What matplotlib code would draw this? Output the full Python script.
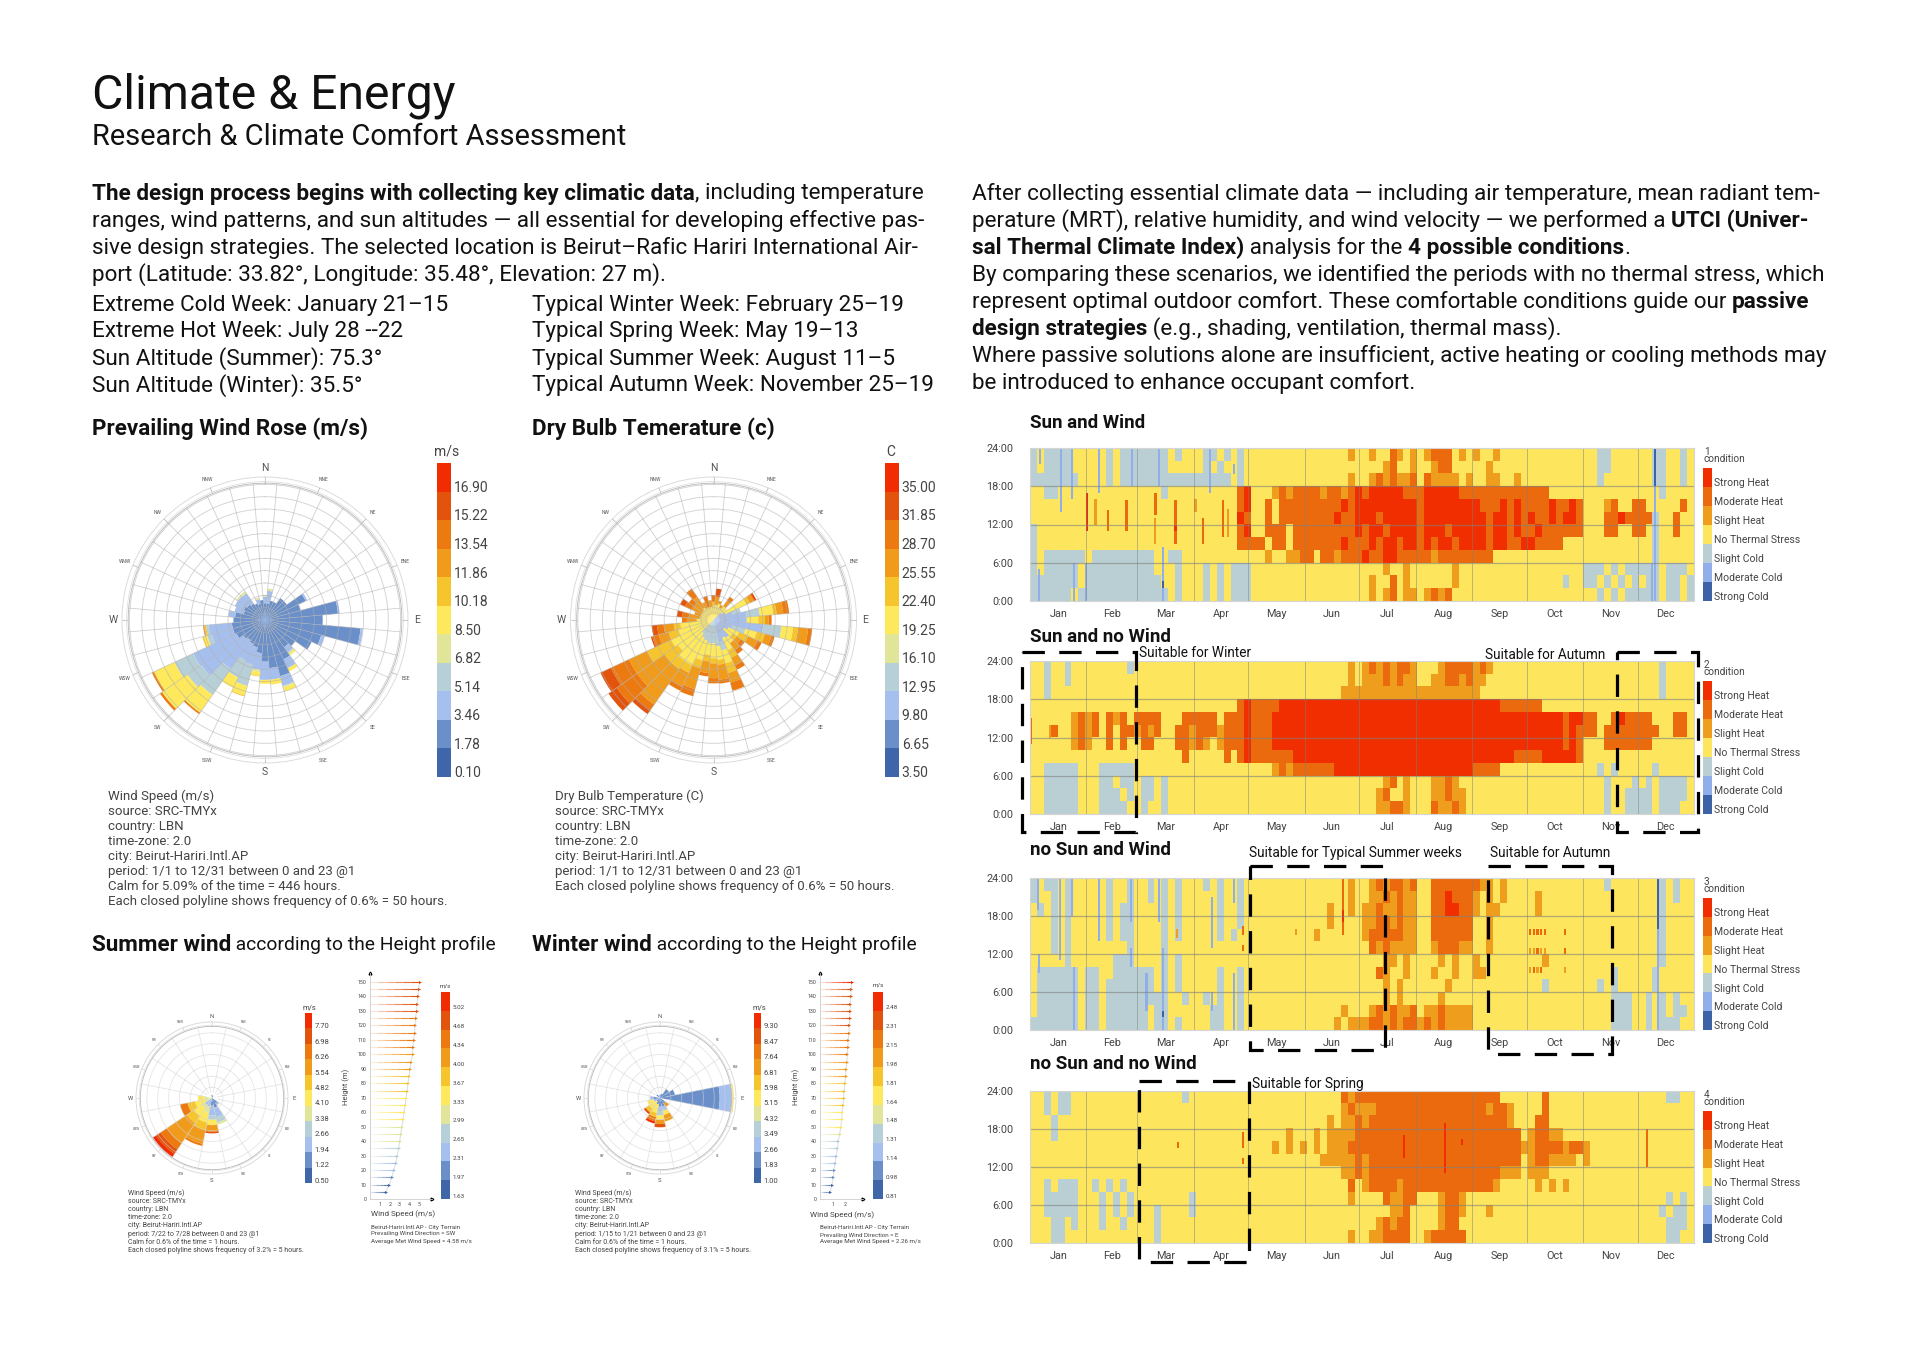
import numpy as np
import matplotlib
matplotlib.use("Agg")
from matplotlib import pyplot as plt
from matplotlib.colors import ListedColormap
from matplotlib.patches import Rectangle

plt.rcParams['font.family'] = ['Roboto', 'DejaVu Sans']

W, H = 1920, 1357

# ---------- data ----------
rose_colors = ['#3F66A8', '#6A8FC9', '#A5BFEE', '#B7CFD6', '#E1E59A', '#FEE85C',
               '#F6C42D', '#F09B1B', '#EC7A10', '#E2530C', '#F12C00']
cond_colors = ['#3D62A6', '#8FAEEA', '#B9CFD3', '#FDE55E', '#EE9D1C', '#EB6A0E', '#F02E00']
cond_names = ['Strong Heat', 'Moderate Heat', 'Slight Heat', 'No Thermal Stress',
              'Slight Cold', 'Moderate Cold', 'Strong Cold']
months = ['Jan', 'Feb', 'Mar', 'Apr', 'May', 'Jun', 'Jul', 'Aug', 'Sep', 'Oct', 'Nov', 'Dec']
month_days = [31, 28, 31, 30, 31, 30, 31, 31, 30, 31, 30, 31]
hours = ['0:00', '6:00', '12:00', '18:00', '24:00']

# each direction (every 10 degrees from N): (colour bin, cumulative hours)
wind_rose = [
    [(1, 68), (2, 95), (4, 101)], [(1, 68), (2, 119), (4, 128)], [(1, 81)], [(1, 81)],
    [(1, 108)], [(1, 108)], [(1, 182), (2, 189)], [(1, 149)],
    [(1, 297), (2, 304)], [(1, 234)], [(1, 389), (2, 398)], [(1, 236), (2, 250)],
    [(1, 209)], [(1, 149)], [(1, 135), (2, 162), (4, 171), (5, 176)], [(1, 176), (2, 216), (5, 230)],
    [(1, 236), (2, 277), (4, 284), (5, 300)], [(1, 196), (2, 243), (5, 263)],
    [(1, 169), (2, 243), (5, 259)], [(1, 135), (2, 203), (4, 213), (5, 227), (6, 230)],
    [(1, 115), (2, 189), (3, 277), (5, 317), (6, 321)], [(1, 108), (2, 182), (3, 257), (5, 304)],
    [(1, 101), (2, 243), (3, 371), (5, 459), (8, 466)], [(1, 108), (2, 317), (3, 385), (5, 510), (8, 520)],
    [(1, 128), (2, 321), (3, 405), (5, 497), (8, 506)], [(1, 135), (2, 223), (3, 243), (5, 257), (6, 263)],
    [(1, 135), (2, 230), (3, 240), (6, 248), (8, 252)], [(1, 128)], [(1, 122), (2, 149)],
    [(1, 90), (2, 128)], [(1, 95), (2, 135)], [(1, 88), (2, 135), (4, 142)],
    [(1, 81), (2, 132), (4, 142)], [(1, 74)], [(1, 68), (2, 88), (4, 95)], [(1, 81)],
]
temp_rose = [
    [(5, 54), (6, 74), (8, 101)], [(5, 61), (7, 95), (9, 128)], [(5, 68), (7, 81)], [(5, 54), (7, 68)],
    [(5, 68), (7, 95), (8, 115)], [(2, 40), (5, 68)], [(2, 54), (5, 149), (6, 162), (7, 182), (9, 192)],
    [(2, 81), (3, 115)], [(2, 135), (3, 189), (5, 243), (6, 257), (7, 284), (8, 308)],
    [(2, 135), (5, 182), (6, 209), (7, 223), (8, 236)], [(2, 203), (3, 277), (5, 324), (6, 344), (7, 385), (8, 402)],
    [(2, 81), (3, 135), (5, 182), (6, 216), (7, 243), (8, 257)], [(2, 68), (5, 115), (6, 155), (7, 196), (8, 216)],
    [(2, 54), (5, 95), (6, 115), (7, 135), (8, 155)], [(2, 88), (5, 115), (7, 149), (8, 169)],
    [(2, 81), (5, 135), (6, 169), (7, 203), (8, 223)], [(2, 95), (3, 128), (5, 182), (6, 223), (7, 263), (8, 297)],
    [(3, 108), (5, 162), (6, 182), (7, 243), (8, 259)], [(3, 95), (5, 155), (6, 176), (7, 236), (8, 257)],
    [(3, 95), (5, 142), (6, 169), (7, 216), (8, 230)], [(3, 88), (5, 169), (6, 203), (7, 290), (8, 320)],
    [(3, 81), (5, 203), (6, 236), (7, 297), (8, 317)], [(3, 68), (5, 203), (6, 243), (7, 419), (8, 446), (9, 466)],
    [(5, 176), (6, 243), (7, 378), (8, 479), (9, 520)], [(5, 189), (6, 297), (7, 378), (8, 459), (9, 506)],
    [(5, 149), (6, 189), (7, 230), (8, 257), (9, 263)], [(5, 135), (6, 162), (7, 203), (8, 230), (9, 252)],
    [(5, 68), (7, 108), (8, 128)], [(5, 54), (7, 101), (8, 128), (9, 149)], [(5, 54), (7, 81)],
    [(5, 54), (7, 95), (8, 128), (9, 149)], [(5, 54), (7, 95), (8, 122)], [(5, 61), (7, 115), (8, 155)],
    [(5, 54), (7, 81)], [(5, 54), (8, 101)], [(5, 54), (7, 81)],
]
# 16 directions from N
summer_rose = [
    [(1, 1.5)], [(1, 1)], [], [], [], [], [(1, 3), (2, 4)], [(1, 4.5), (2, 9), (3, 11.5), (4, 12.5)],
    [(1, 3.5), (2, 8), (3, 10), (5, 12.5), (7, 15.5), (9, 16.3)], [(2, 4), (4, 7), (5, 11.5), (6, 15), (7, 21.5), (8, 22.5)],
    [(2, 4), (4, 5.5), (5, 10), (6, 14), (7, 25), (8, 28.5), (9, 31), (10, 32.7)],
    [(4, 3.5), (5, 8), (6, 11.5), (8, 15)], [(4, 3.5), (5, 6.5)], [], [], [(4, 1.5)],
]
winter_rose = [
    [(1, 1.5)], [(1, 2)], [(1, 5)], [(1, 7)], [(1, 27.5), (2, 33), (5, 34)], [], [(1, 3), (7, 5)],
    [(1, 4), (2, 6), (5, 8), (7, 11)], [(1, 4), (2, 6), (3, 8), (5, 10), (7, 12), (9, 13.5)],
    [(1, 3), (5, 7), (6, 9), (8, 11), (10, 12)], [(1, 2), (5, 6), (6, 8), (9, 9)],
    [(2, 3), (5, 6)], [(1, 3), (2, 4.5)], [], [(1, 2)], [],
]
wind_ticks = ['0.10', '1.78', '3.46', '5.14', '6.82', '8.50', '10.18', '11.86', '13.54', '15.22', '16.90']
temp_ticks = ['3.50', '6.65', '9.80', '12.95', '16.10', '19.25', '22.40', '25.55', '28.70', '31.85', '35.00']
summer_ticks = ['0.50', '1.22', '1.94', '2.66', '3.38', '4.10', '4.82', '5.54', '6.26', '6.98', '7.70']
winter_ticks = ['1.00', '1.83', '2.66', '3.49', '4.32', '5.15', '5.98', '6.81', '7.64', '8.47', '9.30']
prof1_ticks = ['1.63', '1.97', '2.31', '2.65', '2.99', '3.33', '3.67', '4.00', '4.34', '4.68', '5.02']
prof2_ticks = ['0.81', '0.98', '1.14', '1.31', '1.48', '1.64', '1.81', '1.98', '2.15', '2.31', '2.48']

heights = list(range(5, 155, 5))
prof1_speed = [1.6, 1.95, 2.2, 2.4, 2.6, 2.75, 2.9, 3.0, 3.1, 3.2, 3.35, 3.45, 3.55, 3.65, 3.75,
               3.85, 3.95, 4.05, 4.15, 4.3, 4.35, 4.4, 4.5, 4.55, 4.6, 4.7, 4.75, 4.85, 4.9, 5.0]
prof2_speed = [0.8, 0.95, 1.05, 1.1, 1.2, 1.3, 1.38, 1.45, 1.55, 1.65, 1.7, 1.76, 1.82, 1.87, 1.92,
               1.97, 2.02, 2.06, 2.12, 2.17, 2.2, 2.24, 2.28, 2.31, 2.34, 2.38, 2.41, 2.44, 2.47, 2.5]

# thermal condition, 8 columns per month, rows from 22-24h down to 0-2h
# 0 strong cold .. 3 no stress .. 6 strong heat
sun_wind = [
    "23222233 33323222 22223233 32232323 33333333 33333343 34335434 34555343 43343333 33333333 33223333 33223323",
    "23222233 33323222 22223333 32323323 33333333 33333333 33345334 33455333 33433333 33333333 33223333 33223323",
    "22222223 33323222 22222222 22222323 33333333 33333343 34545445 35444434 33443343 33333333 33233333 33223323",
    "33223333 33333333 33323333 33333356 33345455 55455456 56666655 56666655 55555555 55533333 33333333 33323333",
    "33333333 33333333 33333333 33333356 33535555 55555656 66666666 56666666 65556565 55565565 33345335 53333353",
    "33333333 33333333 33333333 33333365 33535555 55556556 66566666 56666666 66566565 65565665 33355655 55233533",
    "23333333 33333333 33333333 33333356 33555355 55555556 56656666 56665666 66566565 56555555 33355335 53233533",
    "23333333 33333333 33333333 33333355 55355355 55555655 56566566 56566566 66566556 65555333 33333333 33233333",
    "23222222 32222222 22332233 33333333 33433445 53554555 65566555 55455555 55533333 33333333 33333333 33233333",
    "23222223 22222222 22333233 32323222 33333333 33333333 33343343 33333433 33333333 33333333 22232322 22232223",
    "22222223 22222222 22233233 32323222 33333333 33333333 34335343 33333433 33333333 33333233 22323232 32232232",
    "22222232 22222222 22223233 32323222 33333333 33333333 34345344 34545333 33333333 33333333 33232322 22232232",
]
sun_nowind = [
    "33233233 33333323 33333333 33333333 33333333 33333343 45454554 33345555 45433333 33333333 33333333 33323333",
    "33233233 33333333 33333333 33333333 33333333 33333343 44454544 33445545 44333333 33333333 33333333 33323333",
    "33233333 33333333 33333333 33333333 33333333 33333444 44444444 44444444 43333333 33333333 33333333 33323333",
    "33333333 33333333 33333333 33333356 55556666 66666666 66666666 66666666 66665555 55333333 33333333 33333333",
    "33333345 45354535 55533355 55535556 55566666 66666666 66666666 66666666 66666666 66666566 55335655 55333553",
    "33353345 45353554 54533554 55545556 55566666 66666666 66666666 66666666 66666666 66666565 55355555 55533553",
    "33333345 43353533 55333554 54345556 55566666 66666666 66666666 66666666 66666666 66666565 33355555 55333333",
    "33333333 33333333 33333353 33335356 55555566 66666666 66666666 66666666 66666655 55666665 33333333 33333333",
    "33222223 33222223 33333333 33333333 33345455 55556666 66666666 66666666 55553333 33333333 33232333 33233333",
    "33222223 33223223 22323333 33333333 33333333 33333333 33345343 33445433 33333333 33333333 33323332 32322223",
    "33222223 33222323 22323333 33333333 33333333 33333333 33453343 33445443 33333333 33333333 33323322 22322223",
    "33222223 33222233 23323333 33333333 33333333 33333333 33445543 33544543 33333333 33333333 33323322 22322233",
]
nosun_wind = [
    "23223233 33323323 32323233 32323323 33333333 33333343 34545545 33555555 54434333 33333333 33323333 33323233",
    "23323233 33323323 32323233 33323323 33333333 33333343 34454544 33556555 43434333 34333333 33333333 33323233",
    "32323233 33323223 33323233 33323323 33333333 33343343 44544544 33556655 43443333 34333333 33333333 33323333",
    "33323233 33323223 33323233 33323323 33333333 33343333 44554544 33555555 33433333 33333333 33333333 33323333",
    "33323233 33323223 33323233 33323233 33333333 34333333 45555544 33555555 33433333 33333333 33333333 33323333",
    "33323233 33333323 33323333 33333333 33333333 33333333 35454444 33455544 33433333 33333333 33333333 33323333",
    "33333233 33332223 33323233 33333333 33333333 33333333 33344343 33343433 43333333 33433333 33333333 33323333",
    "32222223 22332222 22323233 33323323 33333333 33333333 33543343 33433433 44333333 33333333 33332333 33233333",
    "32222223 22322222 22323233 33323323 33333333 33333333 33343433 33334333 33333333 33233333 33232333 33233333",
    "32222223 22322222 22223323 32323323 33333333 33333333 33343433 33343333 33333333 33333333 33332223 32323233",
    "32222223 22322222 23223333 33223323 33333333 33333433 34545445 34454444 33333333 33333333 33332223 32323223",
    "22222223 22322222 23223233 33223323 33333333 33334344 45545455 45454444 33333333 33333333 33332223 32322233",
]
nosun_nowind = [
    "33232233 33333333 33333323 33333333 33333333 33333545 55555555 55555555 55553333 33533333 33333333 33332233",
    "33232233 33333333 33333333 33333333 33333333 33333454 44555555 55555555 55455433 33533333 33333333 33333333",
    "33323333 33333333 33333333 33333333 33333333 33343445 45555555 55555555 55555433 35533333 33333333 33333333",
    "33323333 33333333 33333333 33333333 33333433 34344445 55555555 55555555 55555553 45544333 33333333 33333333",
    "33333333 33333333 33333333 33333333 33343434 34344455 55555555 55555555 55555554 45555455 43333333 33333333",
    "33333333 33333333 33333333 33333333 33333333 33444445 45555555 55555555 55555553 45544443 43333333 33333333",
    "33333333 33333333 33333333 33333333 33333333 33333445 45555555 55555555 55554443 44433333 33333333 33333333",
    "33232223 32323233 33333333 33333333 33333333 33333353 45555455 55555555 55543333 34343433 33333333 33333333",
    "33222223 33232323 33333332 33333333 33333333 33333343 33354455 33345543 33333333 33333333 33333333 33332323",
    "33222223 33232323 33233332 33333333 33333333 33333333 33334453 33345543 33433333 33333333 33333333 33323223",
    "33322323 33233233 33233333 33333333 33333333 33333333 33454553 33345533 33333333 33333333 33333333 33332223",
    "33322333 33333333 33233333 33333333 33333333 33333343 34455553 34555553 33333333 33333333 33333333 33332233",
]

# thin single-day runs seen on top of the grids: (day, hour from, hour to, condition)
sun_wind_thin = [
    (5, 0, 5, 1), (5.5, 21.5, 24, 1), (17, 14, 24, 1), (23, 16, 24, 1), (24, 0, 6, 1), (31, 0, 6, 1),
    (38, 17, 24, 1), (56, 18, 24, 1), (71, 18, 24, 1), (73, 0, 8.5, 1), (73, 2, 3.2, 0), (99, 17, 24, 1),
    (112, 20, 21.5, 1), (31.5, 11, 17, 6), (36, 12, 16, 4), (43, 11, 14.3, 5), (53, 11, 15.8, 5),
    (69, 13.5, 17, 5), (68.5, 9, 13, 4), (80, 9, 15.8, 5), (80, 11, 12, 6), (95, 9, 13, 5), (91, 14, 16, 4),
    (106, 10, 15.8, 5), (109, 10, 14.5, 4), (343.5, 0, 24, 1), (343.5, 18, 24, 0), (342, 0, 6, 1),
]
sun_nowind_thin = [(0.5, 11, 15, 5), (11, 12, 14, 4)]
nosun_wind_thin = [
    (4.6, 19, 24, 1), (16.5, 11, 24, 1), (23, 18, 24, 1), (24, 0, 10, 1), (38, 14, 24, 1), (55.5, 17, 24, 1),
    (55.5, 10, 13, 1), (71, 17, 24, 1), (73, 0, 13, 1), (73, 2, 3, 0), (64, 3, 9, 1), (100, 13, 21, 1),
    (100, 3, 6, 1), (112, 20, 24, 1), (112, 0, 9, 1), (5, 9, 12, 1), (117, 15, 16.5, 5), (117, 12.5, 13.5, 5),
    (172, 15, 24, 5), (172, 17, 19, 6), (81, 14.5, 16, 4), (146, 15, 16, 4), (345, 16, 24, 0), (345, 0, 16, 1),
    (275, 15, 16, 5), (277, 15, 16, 5), (279, 15, 16, 5), (281, 15, 16, 5), (283, 15, 16, 5), (294, 15, 16, 5),
    (275, 12, 13, 4), (277, 12, 13, 4), (279, 12, 13, 5), (281, 12, 13, 4), (283, 12, 13, 4), (294, 12, 13, 5),
    (275, 9, 10, 4), (277, 9, 10, 5), (279, 9, 10, 4), (281, 9, 10, 5), (294, 9, 10, 4),
]
nosun_nowind_thin = [
    (205.5, 13.5, 17, 6), (228, 11, 18.9, 6), (237.5, 15.5, 16.5, 6), (339, 12, 18, 5),
    (117, 15, 17.5, 5), (117, 12.5, 13.5, 5), (81.5, 15, 16, 5),
]

left_intro = [
    [("The design process begins with collecting key climatic data", True), (", including temperature", False)],
    [("ranges, wind patterns, and sun altitudes — all essential for developing effective pas-", False)],
    [("sive design strategies. The selected location is Beirut–Rafic Hariri International Air-", False)],
    [("port (Latitude: 33.82°, Longitude: 35.48°, Elevation: 27 m).", False)],
]
weeks_left = ["Extreme Cold Week: January 21–15", "Extreme Hot Week: July 28 --22",
              "Sun Altitude (Summer): 75.3°", "Sun Altitude (Winter): 35.5°"]
weeks_right = ["Typical Winter Week: February 25–19", "Typical Spring Week: May 19–13",
               "Typical Summer Week: August 11–5", "Typical Autumn Week: November 25–19"]
right_intro = [
    [("After collecting essential climate data — including air temperature, mean radiant tem-", False)],
    [("perature (MRT), relative humidity, and wind velocity — we performed a ", False), ("UTCI (Univer-", True)],
    [("sal Thermal Climate Index)", True), (" analysis for the ", False), ("4 possible conditions", True), (".", False)],
    [("By comparing these scenarios, we identified the periods with no thermal stress, which", False)],
    [("represent optimal outdoor comfort. These comfortable conditions guide our ", False), ("passive", True)],
    [("design strategies", True), (" (e.g., shading, ventilation, thermal mass).", False)],
    [("Where passive solutions alone are insufficient, active heating or cooling methods may", False)],
    [("be introduced to enhance occupant comfort.", False)],
]
wind_note = ["Wind Speed (m/s)", "source: SRC-TMYx", "country: LBN", "time-zone: 2.0", "city: Beirut-Hariri.Intl.AP",
             "period: 1/1 to 12/31 between 0 and 23 @1", "Calm for 5.09% of the time = 446 hours.",
             "Each closed polyline shows frequency of 0.6% = 50 hours."]
temp_note = ["Dry Bulb Temperature (C)", "source: SRC-TMYx", "country: LBN", "time-zone: 2.0", "city: Beirut-Hariri.Intl.AP",
             "period: 1/1 to 12/31 between 0 and 23 @1", "Each closed polyline shows frequency of 0.6% = 50 hours."]
summer_note = ["Wind Speed (m/s)", "source: SRC-TMYx", "country: LBN", "time-zone: 2.0", "city: Beirut-Hariri.Intl.AP",
               "period: 7/22 to 7/28 between 0 and 23 @1", "Calm for 0.6% of the time = 1 hours.",
               "Each closed polyline shows frequency of 3.2% = 5 hours."]
winter_note = ["Wind Speed (m/s)", "source: SRC-TMYx", "country: LBN", "time-zone: 2.0", "city: Beirut-Hariri.Intl.AP",
               "period: 1/15 to 1/21 between 0 and 23 @1", "Calm for 0.6% of the time = 1 hours.",
               "Each closed polyline shows frequency of 3.1% = 5 hours."]
prof1_note = ["Beirut-Hariri.Intl.AP - City Terrain", "Prevailing Wind Direction = SW", "Average Met Wind Speed = 4.58 m/s"]
prof2_note = ["Beirut-Hariri.Intl.AP - City Terrain", "Prevailing Wind Direction = E", "Average Met Wind Speed = 2.26 m/s"]
compass = ['N', 'NNE', 'NE', 'ENE', 'E', 'ESE', 'SE', 'SSE', 'S', 'SSW', 'SW', 'WSW', 'W', 'WNW', 'NW', 'NNW']

# ---------- page ----------
fig = plt.figure(figsize=(W / 100, H / 100), dpi=100, facecolor='white')
page = fig.add_axes([0, 0, 1, 1], zorder=10)
page.set_xlim(0, W)
page.set_ylim(H, 0)
page.axis('off')
page.patch.set_alpha(0)


def px_axes(x0, y0, x1, y1, **kw):
    return fig.add_axes([x0 / W, 1 - y1 / H, (x1 - x0) / W, (y1 - y0) / H], **kw)


def write_runs(x, y, runs, size, plain_size=None):
    # text with bold and plain parts on one line
    renderer = fig.canvas.get_renderer()
    for text, bold in runs:
        s = size if bold or plain_size is None else plain_size
        t = page.text(x, y, text, fontsize=s, va='center', color='#111111',
                      fontweight='bold' if bold else 'normal')
        x = page.transData.inverted().transform((t.get_window_extent(renderer).x1, 0))[0]


def write_lines(x, y, lines, step, size, color='#444444'):
    for i, line in enumerate(lines):
        page.text(x, y + i * step, line, fontsize=size, va='center', color=color)


def colorbar(x0, y0, x1, y1, labels, colors, size, unit, unit_x, unit_y):
    cax = px_axes(x0, y0, x1, y1)
    n = len(colors)
    cax.pcolormesh([0, 1], np.arange(n + 1), np.arange(n).reshape(n, 1),
                   cmap=ListedColormap(colors), vmin=0, vmax=n - 1)
    cax.set_xticks([])
    cax.yaxis.tick_right()
    cax.set_yticks(np.arange(len(labels)) + 0.18)
    cax.set_yticklabels(labels, fontsize=size, color='#444444')
    cax.tick_params(axis='y', length=0, pad=2)
    for s in cax.spines.values():
        s.set_visible(False)
    page.text(unit_x, unit_y, unit, fontsize=size, ha='center', va='center', color='#444444')


def rose(cx, cy, radius, rmax, ring, r_outer, stacks, big, small, label_r, spoke, offset, grid_color):
    ax = px_axes(cx - radius, cy - radius, cx + radius, cy + radius, projection='polar')
    ax.set_theta_zero_location('N')
    ax.set_theta_direction(-1)
    ax.set_ylim(0, rmax)
    n = len(stacks)
    width = 2 * np.pi / n
    for i, stack in enumerate(stacks):
        bottom = 0
        for b, top in stack:
            ax.bar(i * width, top - bottom, width=width, bottom=bottom, color=rose_colors[b],
                   linewidth=0, zorder=2)
            bottom = top
    ax.set_yticks(np.arange(ring, r_outer, ring))
    ax.set_yticklabels([])
    ax.set_xticks([])
    ax.yaxis.grid(True, color=grid_color, linewidth=0.6, alpha=0.6, zorder=3)
    ax.set_axisbelow(False)
    ax.tick_params(length=0)
    ax.vlines(np.deg2rad(np.arange(offset, 360, spoke)), ring * 0.5, r_outer, color=grid_color,
              linewidth=0.6, alpha=0.6, zorder=3)
    ax.vlines(np.deg2rad(np.arange(0, 360, 22.5)), r_outer, rmax, color=grid_color, linewidth=0.5, zorder=3)
    th = np.linspace(0, 2 * np.pi, 200)
    ax.plot(th, np.full(200, r_outer), color='#b8b8b8', lw=0.6, zorder=3)
    ax.plot(th, np.full(200, r_outer + (rmax - r_outer) * 0.25), color='#dcdcdc', lw=0.5, zorder=3)
    ax.spines['polar'].set_color('#dcdcdc')
    ax.spines['polar'].set_linewidth(0.7)
    for k, name in enumerate(compass):
        a = np.deg2rad(k * 22.5)
        lx = cx + label_r * np.sin(a)
        ly = cy - label_r * np.cos(a)
        main = k % 4 == 0
        page.text(lx, ly, name, fontsize=big if main else small, ha='center', va='center', color='#555555')


def heat(y0, y1, rows, thin, number, title, title_y):
    x0, x1 = 1030, 1694
    grid = np.array([[int(c) for c in r.replace(' ', '')] for r in rows])
    ax = px_axes(x0, y0, x1, y1)
    ax.imshow(grid, cmap=ListedColormap(cond_colors), vmin=0, vmax=6, aspect='auto',
              interpolation='nearest', extent=[0, 365, 0, 24])
    for day, h0, h1, c in thin:
        ax.add_patch(Rectangle((day - 0.6, h0), 1.2, h1 - h0, color=cond_colors[c], linewidth=0))
    edges = np.cumsum(month_days)
    mids = edges - np.array(month_days) / 2
    for e in edges[:-1]:
        ax.axvline(e, color='#808080', lw=0.7, alpha=0.5)
    for v in (6, 12, 18):
        ax.axhline(v, color='#808080', lw=0.9, alpha=0.6)
    ax.set_xlim(0, 365)
    ax.set_ylim(0, 24)
    ax.set_yticks([0, 6, 12, 18, 24])
    ax.set_yticklabels(hours, fontsize=7.8, color='#444444')
    ax.set_xticks(mids)
    ax.set_xticklabels(months, fontsize=7.8, color='#444444')
    ax.tick_params(length=0, pad=6)
    ax.tick_params(axis='y', pad=12)
    for s in ax.spines.values():
        s.set_color('#d5d5d5')
    # legend strip
    lax = px_axes(1703, y0 + 20, 1712, y1)
    lax.pcolormesh([0, 1], np.arange(8), np.arange(7).reshape(7, 1),
                   cmap=ListedColormap(cond_colors), vmin=0, vmax=6)
    lax.axis('off')
    page.text(1704, y0 + 4, str(number), fontsize=7.2, va='center', color='#444444')
    page.text(1704, y0 + 11, 'condition', fontsize=7.2, va='center', color='#444444')
    step = (y1 - y0 - 20) / 7
    for i, name in enumerate(cond_names):
        page.text(1714, y0 + 21 + step * (i + 0.75), name, fontsize=7.5, va='center', color='#444444')
    page.text(x0, title_y, title, fontsize=13.5, fontweight='bold', va='center', color='#111111')


def dashed(x0, y0, x1, y1):
    page.add_patch(Rectangle((x0, y0), x1 - x0, y1 - y0, fill=False, edgecolor='black',
                             linewidth=2.3, linestyle=(0, (7, 4.5))))


def profile(x0, x1, top, base, speeds, ticks, xticks, xmax):
    ax = px_axes(x0, top, x1, base)
    ax.set_xlim(0, xmax)
    ax.set_ylim(0, (base - top) / (217 / 150))
    edges = [float(t) for t in ticks]
    for h, v in zip(heights, speeds):
        c = rose_colors[int(np.clip(np.digitize(v, edges) - 1, 0, 10))]
        xs = np.linspace(0, v, 7)
        for k in range(6):
            ax.plot(xs[k:k + 2], [h, h], color=c, lw=0.8, alpha=(k + 1) / 6, solid_capstyle='butt')
        ax.plot(v, h, marker='>', ms=2.2, color=c, mew=0)
    ax.plot(speeds, heights, color='#dddddd', lw=0.7, zorder=0)
    for name in ('top', 'right'):
        ax.spines[name].set_visible(False)
    for name in ('left', 'bottom'):
        ax.spines[name].set_color('#cccccc')
        ax.spines[name].set_linewidth(0.6)
    ax.plot(1, 0, '>k', ms=2, transform=ax.transAxes, clip_on=False)
    ax.plot(0, 1, '^k', ms=2, transform=ax.transAxes, clip_on=False)
    ax.set_yticks(range(0, 160, 10))
    ax.set_yticklabels(range(0, 160, 10), fontsize=3.8, color='#444444')
    ax.set_xticks(xticks)
    ax.set_xticklabels(xticks, fontsize=3.8, color='#444444')
    ax.tick_params(length=0, pad=2.5)
    ax.patch.set_alpha(0)


# ---------- header and text ----------
page.text(92, 96, "Climate & Energy", fontsize=34.7, va='center', color='#111111')
page.text(92, 137, "Research & Climate Comfort Assessment", fontsize=20.9, va='center', color='#111111')

for i, runs in enumerate(left_intro):
    write_runs(92, 194 + 27 * i, runs, 16.2)
for i in range(4):
    write_runs(92, 305 + 27 * i, [(weeks_left[i], False)], 16.2)
    write_runs(532, 305 + 27 * i, [(weeks_right[i], False)], 16.2)
for i, runs in enumerate(right_intro):
    write_runs(972, 194 + 27 * i, runs, 16.2)

write_runs(92, 429, [("Prevailing Wind Rose (m/s)", True)], 16.2)
write_runs(532, 429, [("Dry Bulb Temerature (c)", True)], 16.2)
write_runs(92, 945, [("Summer wind", True), (" according to the Height profile", False)], 16.2, 13.85)
write_runs(532, 945, [("Winter wind", True), (" according to the Height profile", False)], 16.2, 13.85)

# ---------- wind roses ----------
rose(265, 620, 143, 580, 50, 555, wind_rose, 7.5, 3.6, 152, 10, 5, '#b0b0b0')
rose(713.5, 620, 143, 580, 50, 555, temp_rose, 7.5, 3.6, 152, 10, 5, '#b0b0b0')
colorbar(437, 463, 451, 777, wind_ticks, rose_colors, 10, 'm/s', 447, 452)
colorbar(885, 463, 899, 777, temp_ticks, rose_colors, 10, 'C', 891, 452)
write_lines(108, 796, wind_note, 15.1, 9.55)
write_lines(555, 796, temp_note, 15.1, 9.55)

rose(212, 1098, 76, 35, 5, 33, summer_rose, 4.2, 2.2, 82, 22.5, 11.25, '#d4d4d4')
rose(660, 1098, 76, 35, 5, 33, winter_rose, 4.2, 2.2, 82, 22.5, 11.25, '#d4d4d4')
colorbar(305, 1013, 312, 1183, summer_ticks, rose_colors, 5.5, 'm/s', 309.6, 1007)
colorbar(754, 1013, 761, 1183, winter_ticks, rose_colors, 5.5, 'm/s', 759, 1007)
write_lines(128.5, 1193, summer_note, 8.2, 5.05)
write_lines(575, 1193, winter_note, 8.2, 5.05)

# ---------- height profiles ----------
profile(370, 432, 973, 1199, prof1_speed, prof1_ticks, [1, 2, 3, 4, 5], 6.26)
profile(820, 863, 973, 1199, prof2_speed, prof2_ticks, [1, 2], 3.4)
colorbar(441, 992, 450, 1199, prof1_ticks, rose_colors, 4.5, 'm/s', 445.5, 986)
colorbar(873, 992, 883, 1199, prof2_ticks, rose_colors, 4.5, 'm/s', 878, 985)
page.text(346, 1087, "Height (m)", rotation=90, fontsize=5.5, ha='center', va='center', color='#444444')
page.text(796, 1087, "Height (m)", rotation=90, fontsize=5.5, ha='center', va='center', color='#444444')
page.text(371, 1214, "Wind Speed (m/s)", fontsize=5.8, va='center', color='#444444')
page.text(810, 1215, "Wind Speed (m/s)", fontsize=5.8, va='center', color='#444444')
write_lines(371, 1227, prof1_note, 7, 4.5)
write_lines(820, 1228, prof2_note, 7, 4.5)

# ---------- UTCI panels ----------
heat(448, 601, sun_wind, sun_wind_thin, 1, "Sun and Wind", 423)
heat(661, 814, sun_nowind, sun_nowind_thin, 2, "Sun and no Wind", 637)
heat(878, 1030, nosun_wind, nosun_wind_thin, 3, "no Sun and Wind", 850)
heat(1091, 1243, nosun_nowind, nosun_nowind_thin, 4, "no Sun and no Wind", 1064)

dashed(1022, 652, 1136, 832)
dashed(1617, 652, 1698, 832)
dashed(1250, 866, 1385, 1050)
dashed(1488, 866, 1612, 1054)
dashed(1139, 1081, 1249, 1262)
for x, y, s in [(1139, 653, "Suitable for Winter"), (1485, 655, "Suitable for Autumn"),
                (1249, 853, "Suitable for Typical Summer weeks"), (1490, 853, "Suitable for Autumn"),
                (1252, 1084, "Suitable for Spring")]:
    page.text(x, y, s, fontsize=9.8, va='center', color='#111111')

fig.savefig('out.png', dpi=100, facecolor='white')
